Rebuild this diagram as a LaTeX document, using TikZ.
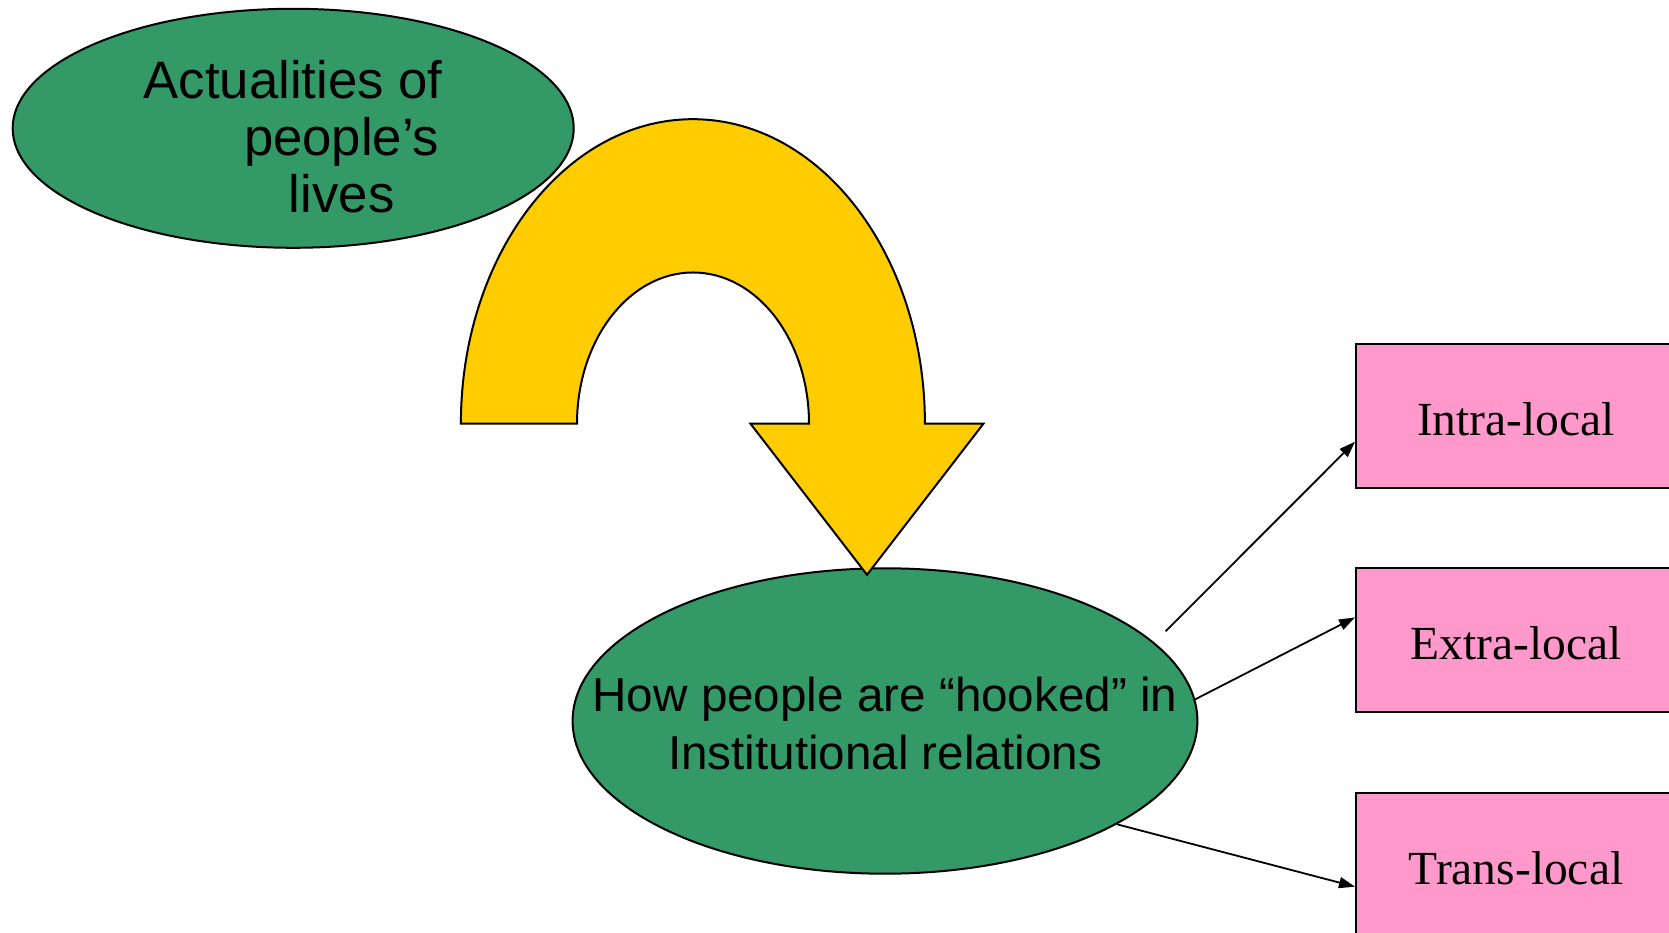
\documentclass[tikz,border=0pt]{standalone}
\usepackage{fontspec}
\setmainfont{Liberation Serif}
\newfontfamily\arialfont{Liberation Sans}
\usetikzlibrary{shapes.geometric,arrows.meta}
\definecolor{leafgreen}{HTML}{339966}
\definecolor{hookyellow}{HTML}{FFCC00}
\definecolor{boxpink}{HTML}{FF99CC}
\tikzset{
  greenblob/.style={ellipse, draw=black, line width=2pt, fill=leafgreen, inner sep=0pt},
  blobtext/.style={align=center, inner sep=0pt, text=black},
  levelbox/.style={rectangle, draw=black, line width=2pt, fill=boxpink,
    minimum width=320pt, minimum height=144pt, inner sep=0pt,
    text height=39pt, text depth=0pt,
    font=\fontsize{47.5pt}{57pt}\selectfont},
  hookarrow/.style={draw=black, line width=2pt, fill=hookyellow, line join=miter},
  link/.style={draw=black, line width=1.8pt, -{Triangle[length=16pt,width=11pt]}}
}
\begin{document}
\begin{tikzpicture}[x=1pt, y=1pt]
\useasboundingbox (0,0) rectangle (1669,933);
\clip (0,0) rectangle (1669,933);

% upper ellipse
\node[greenblob, minimum width=561pt, minimum height=239pt] (life) at (293.2,804.7) {};
\node[blobtext, font=\arialfont\fontsize{52.7pt}{57pt}\selectfont] (lifetext)
  at ([yshift=-8.5pt]life.center)
  {Actualities of\\\hspace*{97pt}people’s\\\hspace*{97pt}lives};

% lower ellipse
\node[greenblob, minimum width=624.8pt, minimum height=305.4pt] (hook) at (885,212) {};
\node[blobtext, font=\arialfont\fontsize{47.6pt}{57.5pt}\selectfont] (hooktext)
  at ([yshift=-2.5pt]hook.center)
  {How people are “hooked” in\\Institutional relations};

% curved arrow from the upper ellipse down to the lower one
\path[hookarrow]
  (460.9,509.4) arc[start angle=180, end angle=0, x radius=232, y radius=304.4]
  -- (983.5,509.4) -- (867,358.2) -- (750.4,509.4) -- (809,509.4)
  arc[start angle=0, end angle=180, x radius=116, y radius=151.1]
  -- cycle;

% the three kinds of relations
\node[levelbox] (intra) at (1516,516.8) {Intra-local};
\node[levelbox] (extra) at (1516,292.8) {Extra-local};
\node[levelbox] (trans) at (1516,67.5) {Trans-local};

% connectors
\coordinate (intrastart) at (1165.6,301.8);
\draw[link] (intrastart) -- ([yshift=-25.5pt]intra.west);
\draw[link] (hook.4.4) -- ([yshift=22.8pt]extra.west);
\draw[link] (hook.-24.2) -- ([yshift=-21.2pt]trans.west);
\end{tikzpicture}
\end{document}
